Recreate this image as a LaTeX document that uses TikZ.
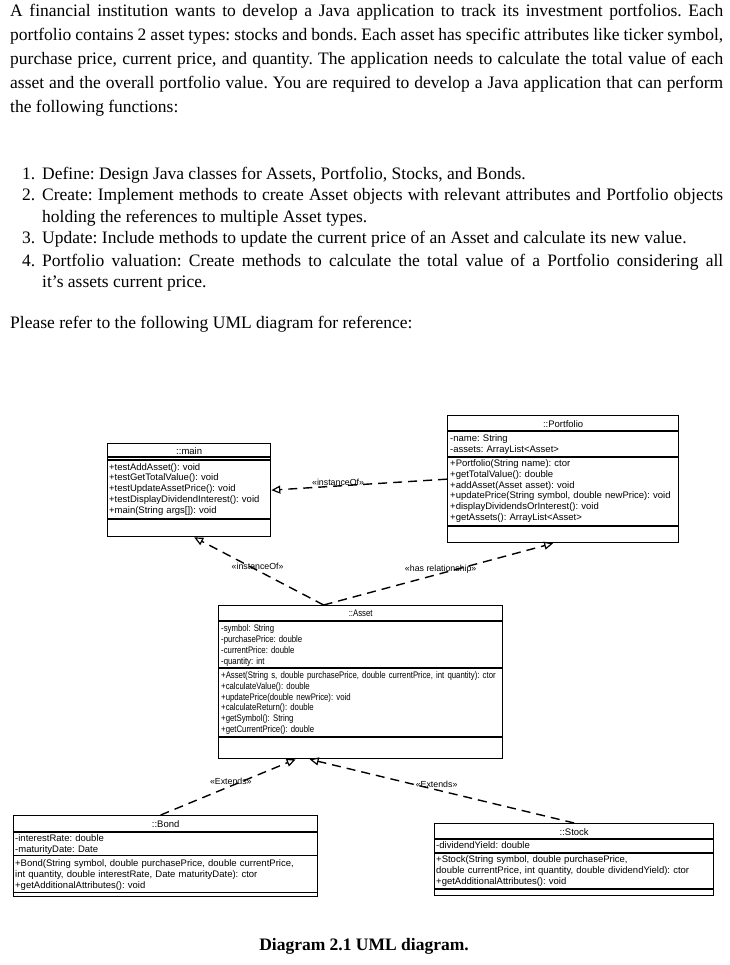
\documentclass[tikz,border=0pt]{standalone}
\usepackage{fontspec}
\setmainfont{Liberation Serif}
\newfontfamily\umlfont{Liberation Sans}
\newfontfamily\umlnarrow{Liberation Sans}[FakeStretch=0.82]
\usetikzlibrary{arrows.meta}
\hyphenpenalty=10000
\exhyphenpenalty=10000
\frenchspacing

% horizontal compartment line, #2 pt below the top of class #1
\newcommand\compline[2]{\draw[classline] ([yshift=-#2pt]#1.north west) -- ([yshift=-#2pt]#1.north east);}

\begin{document}
\begin{tikzpicture}[x=1pt,y=-1pt,
    para/.style={inner sep=0pt,anchor=base west,align=justify,font=\fontsize{17.5}{24}\selectfont},
    listtext/.style={inner sep=0pt,anchor=base west,align=justify,text width=681pt,font=\fontsize{17.5}{21.4}\selectfont},
    classbox/.style={draw,line width=1.3pt,inner sep=0pt,anchor=north west},
    classline/.style={line width=1.3pt},
    classname/.style={inner sep=0pt,anchor=base,font=\umlfont\fontsize{9.5}{10.8}\selectfont},
    members/.style={inner sep=0pt,anchor=base west,align=left,text width=300pt,font=\umlfont\fontsize{9.5}{10.8}\selectfont},
    narrowname/.style={classname,font=\umlnarrow\fontsize{9.5}{10.8}\selectfont},
    narrowmembers/.style={members,font=\umlnarrow\fontsize{9.5}{10.8}\selectfont},
    stereo/.style={inner sep=0pt,font=\umlfont\fontsize{8.8}{10}\selectfont},
    depline/.style={line width=1.4pt,dash pattern=on 9pt off 6pt,-{Triangle[open,length=9pt,width=8pt,line width=1.2pt]}}]
  \useasboundingbox (0,0) rectangle (729,965);

  % task text
  \node[para,text width=713pt] (intro) at (10,17) {A financial institution wants to develop a Java application to track its investment portfolios. Each\linebreak portfolio contains 2 asset types: stocks and bonds. Each asset has specific attributes like ticker symbol,\linebreak purchase price, current price, and quantity. The application needs to calculate the total value of each\linebreak asset and the overall portfolio value. You are required to develop a Java application that can perform\linebreak the following functions:};
  \node[para] (num1) at (22,180) {1.};
  \node[listtext] (define) at (42,180) {Define: Design Java classes for Assets, Portfolio, Stocks, and Bonds.};
  \node[para] (num2) at (22,201) {2.};
  \node[listtext] (create) at (42,201) {Create: Implement methods to create Asset objects with relevant attributes and Portfolio objects\linebreak holding the references to multiple Asset types.};
  \node[para] (num3) at (22,244) {3.};
  \node[listtext] (update) at (42,244) {Update: Include methods to update the current price of an Asset and calculate its new value.};
  \node[para] (num4) at (22,266) {4.};
  \node[listtext] (valuation) at (42,266) {Portfolio valuation: Create methods to calculate the total value of a Portfolio considering all\linebreak it’s assets current price.};
  \node[para] (refer) at (10,328) {Please refer to the following UML diagram for reference:};

  % ::main
  \node[classbox,minimum width=163pt,minimum height=93pt] (main) at (107,443) {};
  \node[classname] (mainName) at ([yshift=-11pt]main.north) {::main};
  \compline{main}{14}
  \compline{main}{17}
  \node[members] (mainOps) at ([xshift=2pt,yshift=-27pt]main.north west) {+testAddAsset(): void\\+testGetTotalValue(): void\\+testUpdateAssetPrice(): void\\+testDisplayDividendInterest(): void\\+main(String args[]): void};
  \compline{main}{76}

  % ::Portfolio
  \node[classbox,minimum width=231pt,minimum height=127pt] (portfolio) at (447,415) {};
  \node[classname] (portfolioName) at ([yshift=-12pt]portfolio.north) {::Portfolio};
  \compline{portfolio}{16}
  \node[members] (portfolioAttr) at ([xshift=3pt,yshift=-26.5pt]portfolio.north west) {-name: String\\-assets: ArrayList<Asset>};
  \compline{portfolio}{42}
  \node[members] (portfolioOps) at ([xshift=3pt,yshift=-51.5pt]portfolio.north west) {+Portfolio(String name): ctor\\+getTotalValue(): double\\+addAsset(Asset asset): void\\+updatePrice(String symbol, double newPrice): void\\+displayDividendsOrInterest(): void\\+getAssets(): ArrayList<Asset>};
  \compline{portfolio}{111}

  % ::Asset
  \node[classbox,minimum width=284pt,minimum height=153pt] (asset) at (218,605) {};
  \node[narrowname] (assetName) at ([yshift=-11.5pt]asset.north) {::Asset};
  \compline{asset}{16}
  \node[narrowmembers,font=\umlnarrow\fontsize{9.5}{11}\selectfont] (assetAttr) at ([xshift=3pt,yshift=-26.5pt]asset.north west) {-symbol: String\\-purchasePrice: double\\-currentPrice: double\\-quantity: int};
  \compline{asset}{63}
  \node[narrowmembers] (assetOps) at ([xshift=3pt,yshift=-73.5pt]asset.north west) {+Asset(String s, double purchasePrice, double currentPrice, int quantity): ctor\\+calculateValue(): double\\+updatePrice(double newPrice): void\\+calculateReturn(): double\\+getSymbol(): String\\+getCurrentPrice(): double};
  \compline{asset}{132}

  % ::Bond
  \node[classbox,minimum width=304pt,minimum height=81pt] (bond) at (13,815) {};
  \node[classname] (bondName) at ([yshift=-12pt]bond.north) {::Bond};
  \compline{bond}{17}
  \node[members,font=\umlfont\fontsize{9.5}{11}\selectfont] (bondAttr) at ([xshift=2pt,yshift=-26.5pt]bond.north west) {-interestRate: double\\-maturityDate: Date};
  \compline{bond}{40.5}
  \node[members,font=\umlfont\fontsize{9.5}{11}\selectfont] (bondOps) at ([xshift=2pt,yshift=-51.5pt]bond.north west) {+Bond(String symbol, double purchasePrice, double currentPrice,\\int quantity, double interestRate, Date maturityDate): ctor\\+getAdditionalAttributes(): void};
  \compline{bond}{77.5}

  % ::Stock
  \node[classbox,minimum width=279pt,minimum height=72pt] (stock) at (434,823) {};
  \node[classname] (stockName) at ([yshift=-12pt]stock.north) {::Stock};
  \compline{stock}{16}
  \node[members] (stockAttr) at ([xshift=2pt,yshift=-25.5pt]stock.north west) {-dividendYield: double};
  \compline{stock}{30}
  \node[members,font=\umlfont\fontsize{9.5}{11}\selectfont] (stockOps) at ([xshift=2pt,yshift=-39.5pt]stock.north west) {+Stock(String symbol, double purchasePrice,\\double currentPrice, int quantity, double dividendYield): ctor\\+getAdditionalAttributes(): void};
  \compline{stock}{66}

  % relations
  \draw[depline] (portfolio.west) -- node[stereo,pos=0.62,yshift=4pt] {«instanceOf»} (main.east);
  \draw[depline] ([xshift=-37pt]asset.north) -- node[stereo,pos=0.51,yshift=4pt] {«instanceOf»} ([xshift=5pt]main.south);
  \draw[depline] ([xshift=-37pt]asset.north) -- node[stereo,pos=0.51,yshift=4pt] {«has relationship»} ([xshift=-10pt]portfolio.south);
  \draw[depline] ([xshift=-5pt]bond.north) -- node[stereo,pos=0.52,yshift=5pt] {«Extends»} ([xshift=-65pt]asset.south);
  \draw[depline] (stock.north) -- node[stereo,pos=0.52,yshift=6pt] {«Extends»} ([xshift=-51pt]asset.south);

  \node[inner sep=0pt,anchor=base,font=\bfseries\fontsize{17.5}{20}\selectfont] (caption) at (364,950) {Diagram 2.1 UML diagram.};
\end{tikzpicture}
\end{document}
